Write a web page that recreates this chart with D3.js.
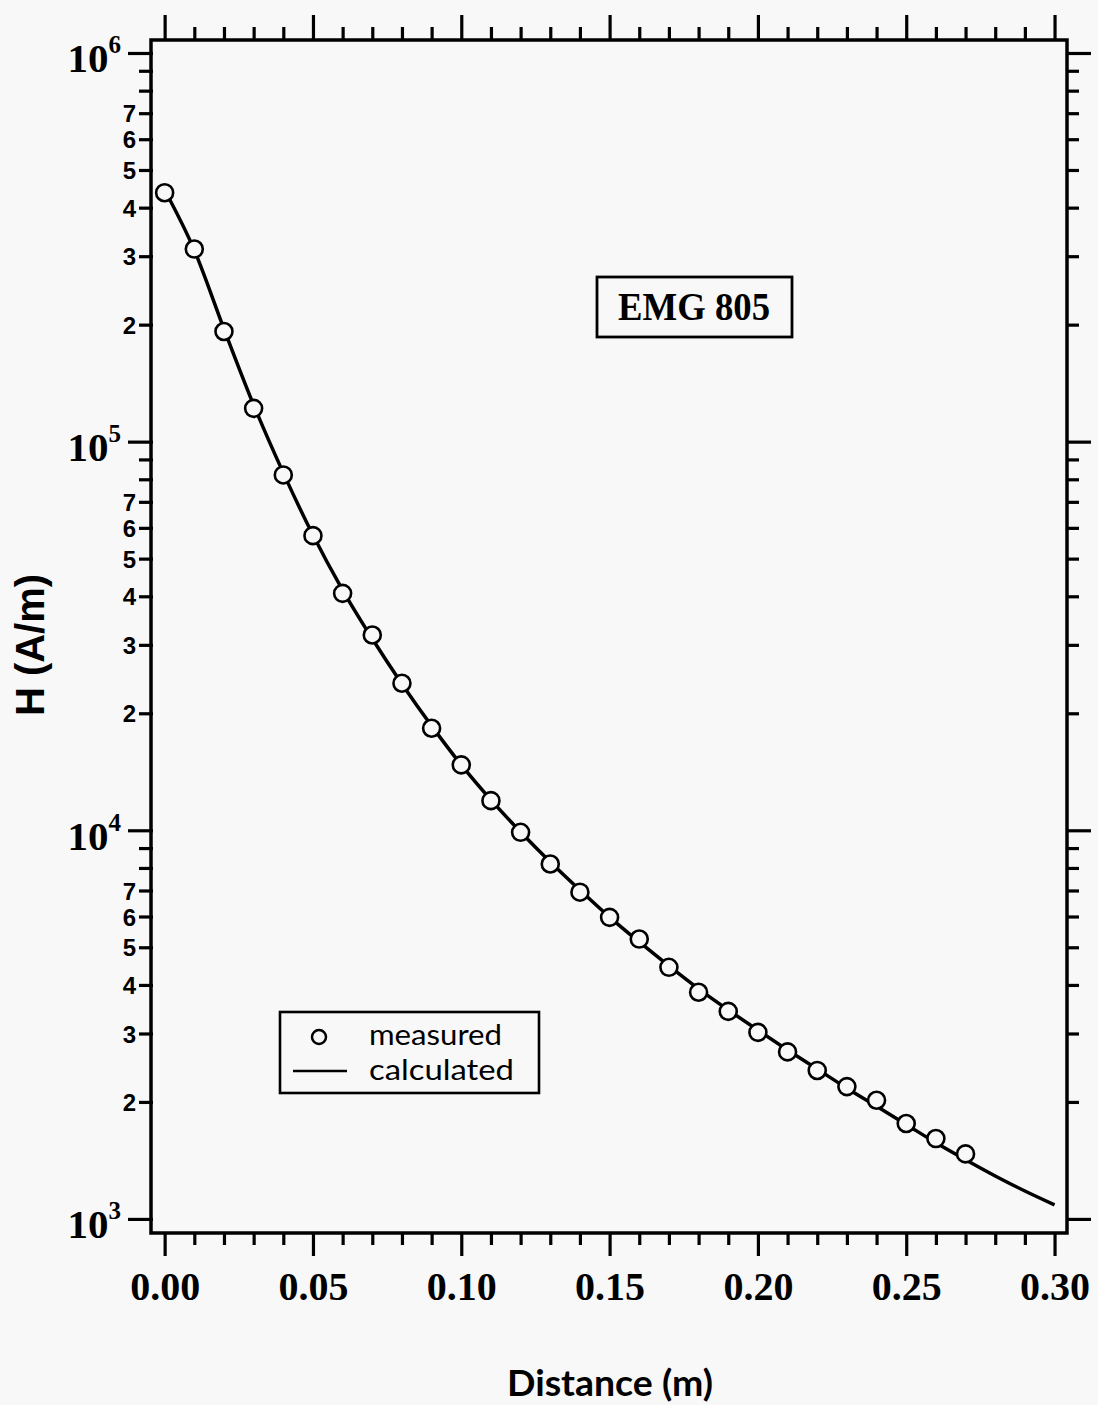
<!DOCTYPE html>
<html>
<head>
<meta charset="utf-8">
<script src="https://cdn.jsdelivr.net/npm/d3@7"></script>
<style>
  html, body { margin: 0; padding: 0; background: #f8f8f8; }
  svg { display: block; }
</style>
</head>
<body>
<svg id="chart" width="1098" height="1405"></svg>
<script>
// ---------- data ----------
const measuredX = [0.00,0.01,0.02,0.03,0.04,0.05,0.06,0.07,0.08,0.09,0.10,0.11,0.12,0.13,
                   0.14,0.15,0.16,0.17,0.18,0.19,0.20,0.21,0.22,0.23,0.24,0.25,0.26,0.27];
const measuredH = [4.37e5,3.13e5,1.92e5,1.218e5,8.21e4,5.73e4,4.07e4,3.18e4,2.39e4,1.83e4,
                   1.473e4,1.192e4,9.88e3,8.19e3,6.93e3,5.97e3,5.25e3,4.44e3,3.83e3,3.42e3,
                   3.02e3,2.69e3,2.41e3,2.19e3,2.02e3,1.76e3,1.61e3,1.47e3];
const calcX = [0.00,0.01,0.02,0.03,0.04,0.05,0.06,0.07,0.08,0.09,0.10,0.11,0.12,0.13,0.14,0.15,
               0.16,0.17,0.18,0.19,0.20,0.21,0.22,0.23,0.24,0.25,0.26,0.27,0.28,0.29,0.30];
const calcH = [4.44e5,3.11e5,1.95e5,1.243e5,8.31e4,5.75e4,4.15e4,3.11e4,2.38e4,1.856e4,
               1.473e4,1.197e4,9.90e3,8.29e3,7.02e3,5.98e3,5.16e3,4.48e3,3.91e3,3.45e3,
               3.06e3,2.72e3,2.43e3,2.17e3,1.95e3,1.75e3,1.57e3,1.42e3,1.29e3,1.18e3,1.087e3];

const xMajorTicks = [0.00,0.05,0.10,0.15,0.20,0.25,0.30];
const xMinorTicks = [0.01,0.02,0.03,0.04,0.06,0.07,0.08,0.09,0.11,0.12,0.13,0.14,0.16,0.17,0.18,0.19,
                     0.21,0.22,0.23,0.24,0.26,0.27,0.28,0.29];
const yDecades = [1e3,1e4,1e5,1e6];
const yDecadeExponents = ["3","4","5","6"];
const yMinorMultipliers = [2,3,4,5,6,7,8,9];
const yLabeledMultipliers = [2,3,4,5,6,7];
const legendLabels = ["measured","calculated"];
const boxLabel = "EMG 805";
const xTitle = "Distance (m)";
const yTitle = "H (A/m)";

// ---------- layout ----------
const pLeft = 151, pRight = 1067, pTop = 40, pBottom = 1233;
const svg = d3.select("#chart");

const x = d3.scaleLinear().domain([-0.0046, 0.3042]).range([pLeft, pRight]);
const y = d3.scaleLog().domain([920, 1.08e6]).range([pBottom, pTop]);

const yMinorTicks = [];
yDecades.slice(0, 3).forEach(d => yMinorMultipliers.forEach(m => yMinorTicks.push(d * m)));

const black = "#000";
const serif = "'Liberation Serif', 'Times New Roman', serif";
const sans = "'Liberation Sans', Arial, sans-serif";

function styleAxis(g) {
  g.select(".domain").remove();
  g.selectAll(".tick line").attr("stroke", black).attr("stroke-width", 3.2);
}

// bottom axis
svg.append("g").attr("transform", `translate(0,${pBottom})`)
  .call(d3.axisBottom(x).tickValues(xMajorTicks).tickSize(23).tickFormat(d3.format(".2f")))
  .call(styleAxis)
  .call(g => g.selectAll("text").attr("dy", null).attr("y", 67)
     .attr("font-family", serif).attr("font-weight", "bold").attr("font-size", 40).attr("fill", black));
svg.append("g").attr("transform", `translate(0,${pBottom})`)
  .call(d3.axisBottom(x).tickValues(xMinorTicks).tickSize(12).tickFormat(""))
  .call(styleAxis);

// top axis
svg.append("g").attr("transform", `translate(0,${pTop})`)
  .call(d3.axisTop(x).tickValues(xMajorTicks).tickSize(25).tickFormat(""))
  .call(styleAxis);
svg.append("g").attr("transform", `translate(0,${pTop})`)
  .call(d3.axisTop(x).tickValues(xMinorTicks).tickSize(13).tickFormat(""))
  .call(styleAxis);

// left axis major
const gl = svg.append("g").attr("transform", `translate(${pLeft + 2},0)`)
  .call(d3.axisLeft(y).tickValues(yDecades).tickSize(25).tickPadding(7).tickFormat(""))
  .call(styleAxis);
gl.selectAll(".tick").each(function(d, i) {
  const t = d3.select(this).append("text")
    .attr("x", -32).attr("y", 19)
    .attr("text-anchor", "end")
    .attr("font-family", serif).attr("font-weight", "bold").attr("fill", black);
  t.append("tspan").attr("font-size", 41).text("10");
  t.append("tspan").attr("font-size", 25).attr("dy", -19).text(yDecadeExponents[i]);
});
// left axis minor
svg.append("g").attr("transform", `translate(${pLeft + 2},0)`)
  .call(d3.axisLeft(y).tickValues(yMinorTicks).tickSize(14).tickPadding(3)
     .tickFormat(d => {
       const m = Math.round(d / Math.pow(10, Math.floor(Math.log10(d) + 1e-9)));
       return yLabeledMultipliers.includes(m) ? String(m) : "";
     }))
  .call(styleAxis)
  .call(g => g.selectAll("text").attr("font-family", sans).attr("font-weight", "bold")
     .attr("font-size", 24).attr("fill", black).attr("dy", "0.36em"));

// right axis
svg.append("g").attr("transform", `translate(${pRight - 1},0)`)
  .call(d3.axisRight(y).tickValues(yDecades).tickSize(25).tickFormat(""))
  .call(styleAxis);
svg.append("g").attr("transform", `translate(${pRight - 1},0)`)
  .call(d3.axisRight(y).tickValues(yMinorTicks).tickSize(13).tickFormat(""))
  .call(styleAxis);

// frame
svg.append("rect")
  .attr("x", x.range()[0]).attr("y", y.range()[1])
  .attr("width", x.range()[1] - x.range()[0]).attr("height", y.range()[0] - y.range()[1])
  .attr("fill", "none").attr("stroke", black).attr("stroke-width", 3.5);

// calculated curve
const calcData = calcX.map((d, i) => [d, calcH[i]]);
svg.append("path").datum(calcData)
  .attr("fill", "none").attr("stroke", black).attr("stroke-width", 3.5)
  .attr("stroke-linejoin", "round")
  .attr("d", d3.line().x(d => x(d[0])).y(d => y(d[1])).curve(d3.curveMonotoneX));

// measured points
svg.append("g").selectAll("circle")
  .data(measuredX.map((d, i) => [d, measuredH[i]]))
  .join("circle")
  .attr("cx", d => x(d[0])).attr("cy", d => y(d[1])).attr("r", 8.5)
  .attr("fill", "#f8f8f8").attr("stroke", black).attr("stroke-width", 2.6);

// EMG 805 box
svg.append("rect").attr("x", 597).attr("y", 277).attr("width", 195).attr("height", 60)
  .attr("fill", "none").attr("stroke", black).attr("stroke-width", 2.8);
svg.append("text").attr("x", 694).attr("y", 320).attr("text-anchor", "middle")
  .attr("font-family", serif).attr("font-weight", "bold").attr("font-size", 39)
  .attr("textLength", 152).attr("lengthAdjust", "spacingAndGlyphs")
  .attr("fill", black).text(boxLabel);

// legend
const lg = svg.append("g");
lg.append("rect").attr("x", 280).attr("y", 1012).attr("width", 259).attr("height", 81)
  .attr("fill", "none").attr("stroke", black).attr("stroke-width", 2.6);
lg.append("circle").attr("cx", 319).attr("cy", 1037).attr("r", 7)
  .attr("fill", "none").attr("stroke", black).attr("stroke-width", 2.5);
lg.append("line").attr("x1", 293).attr("x2", 347).attr("y1", 1071).attr("y2", 1071)
  .attr("stroke", black).attr("stroke-width", 2.5);
lg.selectAll("text.lab").data(legendLabels).join("text")
  .attr("x", 369).attr("y", (d, i) => 1045 + i * 35)
  .attr("font-family", "Lato, 'Open Sans', sans-serif").attr("font-size", 29)
  .attr("textLength", (d, i) => i === 0 ? 133 : 145).attr("lengthAdjust", "spacingAndGlyphs")
  .attr("fill", black).text(d => d);

// axis titles
svg.append("text").attr("x", 610).attr("y", 1396).attr("text-anchor", "middle")
  .attr("font-family", "Lato, sans-serif").attr("font-weight", "bold").attr("font-size", 37)
  .attr("textLength", 206).attr("lengthAdjust", "spacingAndGlyphs")
  .attr("fill", black).text(xTitle);
svg.append("text").attr("transform", "translate(44,645) rotate(-90)")
  .attr("text-anchor", "middle")
  .attr("font-family", sans).attr("font-weight", "bold").attr("font-size", 40)
  .attr("fill", black).text(yTitle);
</script>
</body>
</html>
